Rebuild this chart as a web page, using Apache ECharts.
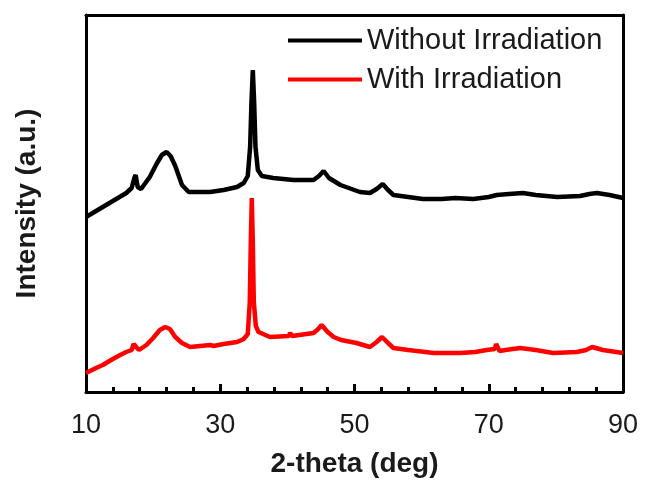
<!DOCTYPE html>
<html>
<head>
<meta charset="utf-8">
<script src="https://cdn.jsdelivr.net/npm/echarts@6/dist/echarts.min.js"></script>
<style>
  html, body { margin: 0; padding: 0; background: #fff; }
  #chart { width: 646px; height: 484px; }
</style>
</head>
<body>
<div id="chart"></div>
<script>
// series names
const seriesNames = ['Without Irradiation', 'With Irradiation'];

// 2-theta (deg) and intensity (a.u.)
const blackTheta = [10, 11.5, 12.5, 14, 15, 16, 16.8, 17.2, 17.4, 17.7, 18.2, 19.5, 20.5, 21.3, 22, 22.6, 23.3, 24.3, 25.3, 27, 28.5, 30.5, 32.5, 33.5, 34.1, 34.45, 34.65, 34.85, 35.05, 35.25, 35.6, 36.2, 37.9, 40.9, 43.9, 44.7, 45.4, 46.2, 47.9, 50.8, 52.3, 53.3, 54.2, 55, 55.8, 58, 60.2, 63, 65, 67.7, 70, 71.2, 73, 75.1, 77, 80.2, 83.6, 85, 86.1, 88, 90];
const blackIntensity = [175, 181, 185, 191, 195, 199, 204, 214, 217, 205, 203, 215, 228, 237, 240, 236, 226, 207, 200, 200, 200, 202, 205, 209, 216, 245, 290, 322, 290, 245, 222, 216, 214, 212, 212, 216, 221, 214, 207, 200, 199, 203, 208, 202, 197, 195, 193, 193, 194, 193, 195, 197, 198, 199, 197, 195, 196, 198, 199, 197, 194];

const redTheta = [10, 11.5, 12.5, 14, 15.1, 16, 16.8, 17.1, 17.3, 17.6, 17.9, 19, 20, 21, 21.8, 22.5, 23.3, 24.3, 25.5, 27, 28.5, 28.7, 29, 30.5, 32.5, 33.5, 34.1, 34.4, 34.55, 34.7, 34.85, 35, 35.3, 35.7, 37.4, 40.2, 40.4, 40.7, 43.9, 44.6, 45.1, 46, 46.9, 48, 50.3, 52.3, 53.3, 54.1, 55, 55.8, 58, 61.8, 65.7, 68, 69.7, 70.9, 71.1, 71.3, 71.6, 72.5, 74.7, 77, 79.6, 83.1, 84.5, 85.4, 87, 90];
const redIntensity = [19, 24, 27, 33, 37, 40, 42, 48, 50, 44, 42, 47, 54, 62, 65, 63, 55, 49, 45, 46, 47, 49, 46, 48, 50, 53, 58, 90, 150, 194, 150, 90, 66, 60, 55, 56, 59, 56, 59, 63, 67, 60, 55, 52, 49, 45, 50, 55, 49, 44, 42, 39, 39, 40, 42, 43, 48, 47, 41, 42, 44, 42, 39, 40, 42, 45, 42, 39];

// axis ranges and labelled tick step
const xMin = 10;
const xMax = 90;
const xTickStep = 20;
const yMin = 0;
const yMax = 377;

const toPairs = (xs, ys) => xs.map((x, i) => [x, ys[i]]);

const FONT = "'Liberation Sans', Arial, sans-serif";
const frame = () => ({ show: true, onZero: false, lineStyle: { color: '#000', width: 3 } });
const off = { show: false };

const chart = echarts.init(document.getElementById('chart'));

chart.setOption({
  animation: false,
  backgroundColor: '#ffffff',
  grid: { left: 86, right: 23, top: 15, bottom: 92 },
  legend: {
    orient: 'vertical',
    left: 288,
    top: 26,
    padding: 0,
    itemWidth: 74,
    itemHeight: 4,
    itemGap: 10,
    icon: 'rect',
    textStyle: { fontFamily: FONT, fontSize: 29, color: '#1a1a1a' },
    data: seriesNames
  },
  xAxis: [{
    // labelled bottom axis
    type: 'value', position: 'bottom', min: xMin, max: xMax, interval: xTickStep,
    name: '2-theta (deg)', nameLocation: 'middle', nameGap: 58,
    nameTextStyle: { fontFamily: FONT, fontSize: 28, fontWeight: 'bold', color: '#1a1a1a' },
    axisLine: frame(),
    axisTick: off, minorTick: off,
    axisLabel: { fontFamily: FONT, fontSize: 27, color: '#1a1a1a', margin: 20 },
    splitLine: off
  }, {
    // top frame
    type: 'value', position: 'top', min: xMin, max: xMax,
    axisLine: frame(),
    axisTick: off, axisLabel: off, splitLine: off
  }, {
    // inward ticks along the bottom
    type: 'value', position: 'bottom', offset: 0, min: xMin, max: xMax, interval: xTickStep,
    axisLine: { show: false, onZero: false },
    axisTick: { show: true, inside: true, length: 8, lineStyle: { color: '#000', width: 3 } },
    minorTick: { show: true, splitNumber: 5, length: 5, lineStyle: { color: '#000', width: 3 } },
    axisLabel: off, splitLine: off
  }],
  yAxis: [{
    type: 'value', position: 'left', min: yMin, max: yMax,
    name: 'Intensity (a.u.)', nameLocation: 'middle', nameGap: 45,
    nameTextStyle: { fontFamily: FONT, fontSize: 28, fontWeight: 'bold', color: '#1a1a1a' },
    axisLine: frame(),
    axisTick: off, axisLabel: off, splitLine: off
  }, {
    type: 'value', position: 'right', min: yMin, max: yMax,
    axisLine: frame(),
    axisTick: off, axisLabel: off, splitLine: off
  }],
  series: [
    {
      name: seriesNames[0], type: 'line', showSymbol: false, color: '#000000',
      lineStyle: { width: 4.5 },
      data: toPairs(blackTheta, blackIntensity)
    },
    {
      name: seriesNames[1], type: 'line', showSymbol: false, color: '#ff0000',
      lineStyle: { width: 4.5 },
      data: toPairs(redTheta, redIntensity)
    }
  ]
});
</script>
</body>
</html>
